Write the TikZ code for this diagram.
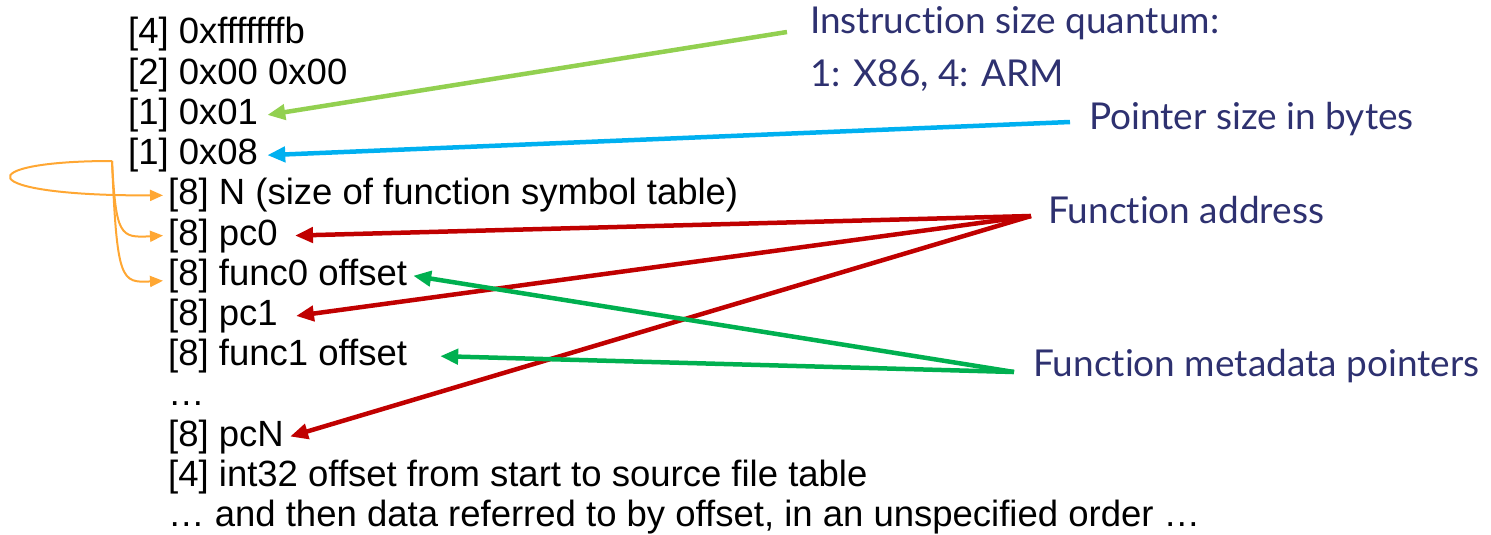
\documentclass[tikz,border=0pt]{standalone}
\usepackage{fontspec}
\setmainfont{Liberation Sans}
\newfontfamily\lato[Ligatures=NoCommon]{Lato}
\usetikzlibrary{arrows.meta}
\definecolor{navy}{RGB}{46,49,112}
\definecolor{lgreen}{RGB}{146,208,80}
\definecolor{sky}{RGB}{0,176,240}
\definecolor{dred}{RGB}{192,0,0}
\definecolor{mgreen}{RGB}{0,176,80}
\definecolor{orng}{RGB}{255,167,51}
\begin{document}
\begin{tikzpicture}[x=1pt,y=-1pt,
 row/.style={anchor=base west,inner sep=0pt,font=\fontsize{36.5}{40}\selectfont},
 lab/.style={anchor=base west,inner sep=0pt,text=navy,font=\lato\fontsize{37}{44}\selectfont},
 fat/.style={line width=4.5pt,-{Triangle[length=18pt,width=15pt]}},
 thinarrow/.style={line width=2pt,draw=orng,-{Triangle[length=13pt,width=11pt]}}]
\useasboundingbox (0,0) rectangle (1491,535);
% rows
\node[row] (r1) at (128,44) {[4] 0xfffffffb};
\node[row] (r2) at (128,84.2) {[2] 0x00 0x00};
\node[row] (r3) at (128,124.4) {[1] 0x01};
\node[row] (r4) at (128,164.6) {[1] 0x08};
\node[row] (r5) at (168,204.8) {[8] N (size of function symbol table)};
\node[row] (r6) at (168,245) {[8] pc0};
\node[row] (r7) at (168,285.2) {[8] func0 offset};
\node[row] (r8) at (168,325.4) {[8] pc1};
\node[row] (r9) at (168,365.6) {[8] func1 offset};
\node[row] (r10) at (168,405.8) {\dots};
\node[row] (r11) at (168,446) {[8] pcN};
\node[row] (r12) at (168,486.2) {[4] int32 offset from start to source file table};
\node[row] (r13) at (168,526.4) {\dots{} and then data referred to by offset, in an unspecified order \dots};
% labels
\node[lab] (l1) at (810,34) {Instruction size quantum:};
\node[lab] (l2) at (810,86) {1: X86, 4: ARM};
\node[lab] (l3) at (1089,129) {Pointer size in bytes};
\node[lab] (l4) at (1048,223) {Function address};
\node[lab] (l5) at (1033,376) {Function metadata pointers};
% tails
\coordinate (t1) at (787,32);
\coordinate (t2) at (1070,122);
\coordinate (t3) at (1031,216);
\coordinate (t4) at (1014,372);
\coordinate (o) at (112,161);
% arrows
\draw[fat,lgreen] (t1) -- ([xshift=9pt]r3.east);
\draw[fat,sky] (t2) -- ([xshift=9pt]r4.east);
\draw[fat,dred] (t3) -- ([xshift=17pt]r6.east);
\draw[fat,dred] (t3) -- ([xshift=18pt]r8.east);
\draw[fat,dred] (t3) -- ([xshift=6pt]r11.east);
\draw[fat,mgreen] (t4) -- ([xshift=6pt]r7.east);
\draw[fat,mgreen] (t4) -- ([xshift=33pt]r9.east);
% orange
\draw[thinarrow] (o) .. controls (-30,161) and (-30,196) .. ([xshift=-5pt]r5.west);
\draw[thinarrow] (o) .. controls (116,236) and (120,238) .. ([xshift=-5pt]r6.west);
\draw[thinarrow] (o) .. controls (117,281) and (121,283) .. ([xshift=-5pt,yshift=-5pt]r7.west);
\end{tikzpicture}
\end{document}
